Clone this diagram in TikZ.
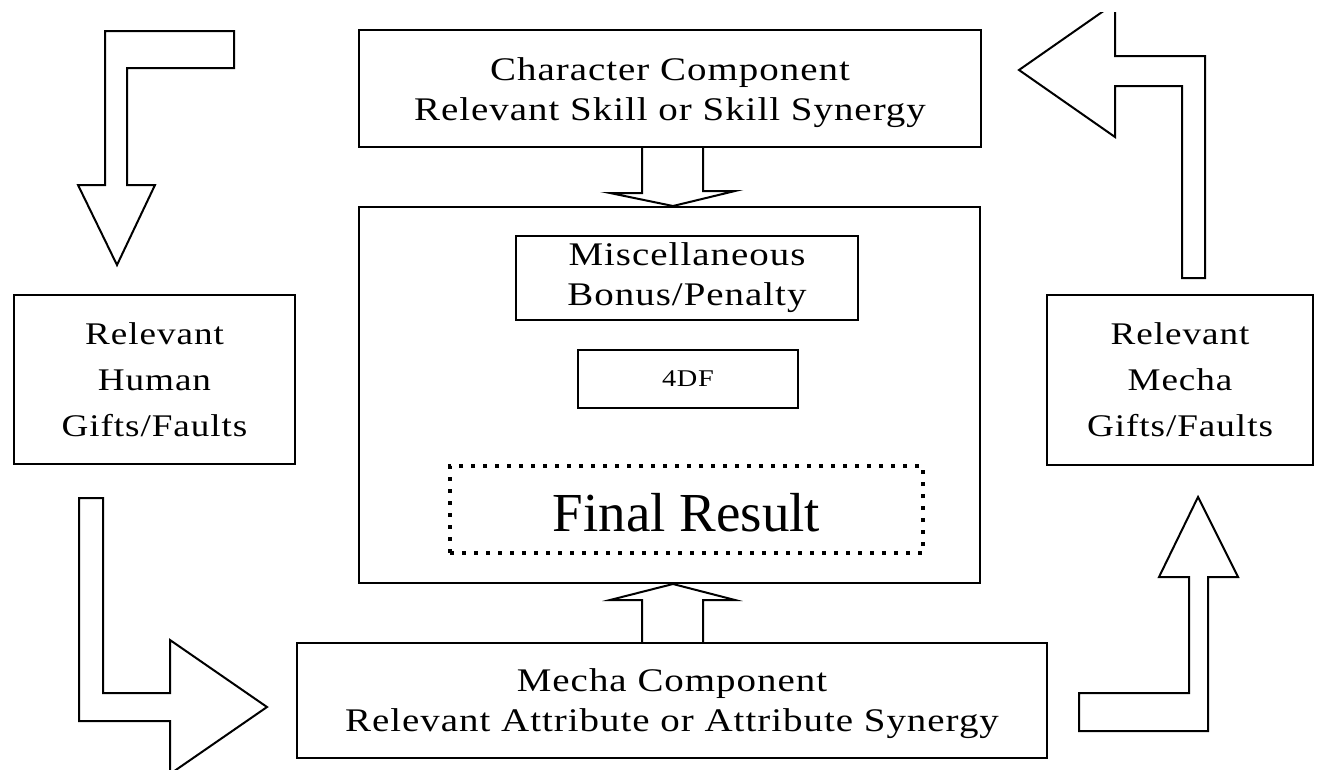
\documentclass[tikz,border=0pt]{standalone}
\usepackage{fontspec}
\setmainfont{Liberation Serif}[FakeStretch=1.18,LetterSpace=3]
\newfontfamily\finalfont{Liberation Serif}
\usetikzlibrary{calc}
\begin{document}
\begin{tikzpicture}[x=1pt,y=-1pt,line width=2pt,line join=miter,
  box/.style={draw,rectangle,inner sep=0pt,fill=white},
  txt/.style={inner sep=0pt,align=center,font=\fontsize{33}{40}\selectfont},
  sidetxt/.style={inner sep=0pt,align=center,font=\fontsize{31.5}{46}\selectfont},
  blockarrow/.style={draw,fill=white,line width=2pt},
  dotbox/.style={draw,rectangle,inner sep=0pt,line width=4pt,dash pattern=on 4pt off 8pt}]
\useasboundingbox (0,0) rectangle (1319,769);
\fill[white] (0,0) rectangle (1319,769);

% boxes
\node[box,minimum width=622,minimum height=117] (char) at (670,88.5) {};
\node[txt] (chart) at ($(char.center)+(0,4)$) {Character Component\\Relevant Skill or Skill Synergy};
\node[box,minimum width=621,minimum height=376] (center) at (669.5,395) {};
\node[box,minimum width=342,minimum height=84] (misc) at (687,278) {};
\node[txt] (misct) at ($(misc.center)+(0,0)$) {Miscellaneous\\Bonus/Penalty};
\node[box,minimum width=220,minimum height=58,font=\fontsize{24}{28}\selectfont] (fdf) at (688,379) {4DF};
\node[dotbox,minimum width=473,minimum height=87] (final) at (686.5,509.5) {};
\node[inner sep=0pt,font=\finalfont\fontsize{55}{60}\selectfont] (finalt) at ($(final.center)+(0,3)$) {Final Result};
\node[box,minimum width=281,minimum height=169] (human) at (154.5,379.5) {};
\node[sidetxt] (humant) at (human.center) {Relevant\\Human\\Gifts/Faults};
\node[box,minimum width=266,minimum height=170] (mside) at (1180,380) {};
\node[sidetxt] (msidet) at (mside.center) {Relevant\\Mecha\\Gifts/Faults};
\node[box,minimum width=750,minimum height=115] (mecha) at (672,700.5) {};
\node[txt] (mechat) at ($(mecha.center)+(0,3)$) {Mecha Component\\Relevant Attribute or Attribute Synergy};

% small arrows between the centre boxes
\draw ($(char.south)+(-28,0)$) -- ++(0,45) -- ++(-32,0) -- (center.north -| 673,0) -- ++(62,-15) -- ++(-32,0) -- ($(char.south)+(33,0)$);
\draw ($(mecha.north)+(-30,0)$) -- ++(0,-42) -- ++(-32,0) -- (center.south -| 673,0) -- ++(62,16) -- ++(-32,0) -- ($(mecha.north)+(31,0)$);

% big block arrows
\begin{scope}
\clip (0,12) rectangle (1319,769);
\draw[blockarrow] (234,31) -- (105,31) -- (105,185) -- (78,185) -- (117,265) -- (155,185) -- (127,185) -- (127,68) -- (234,68) -- cycle;
\draw[blockarrow] (79,498) -- (103,498) -- (103,693) -- (170,693) -- (170,640) -- (267,707) -- (170,774) -- (170,721) -- (79,721) -- cycle;
\draw[blockarrow] (1079,693) -- (1189,693) -- (1189,577) -- (1159,577) -- (1198,497) -- (1238,577) -- (1208,577) -- (1208,731) -- (1079,731) -- cycle;
\draw[blockarrow] (1205,278) -- (1182,278) -- (1182,86) -- (1115,86) -- (1115,137) -- (1019,70) -- (1115,3) -- (1115,56) -- (1205,56) -- cycle;
\end{scope}
\end{tikzpicture}
\end{document}
